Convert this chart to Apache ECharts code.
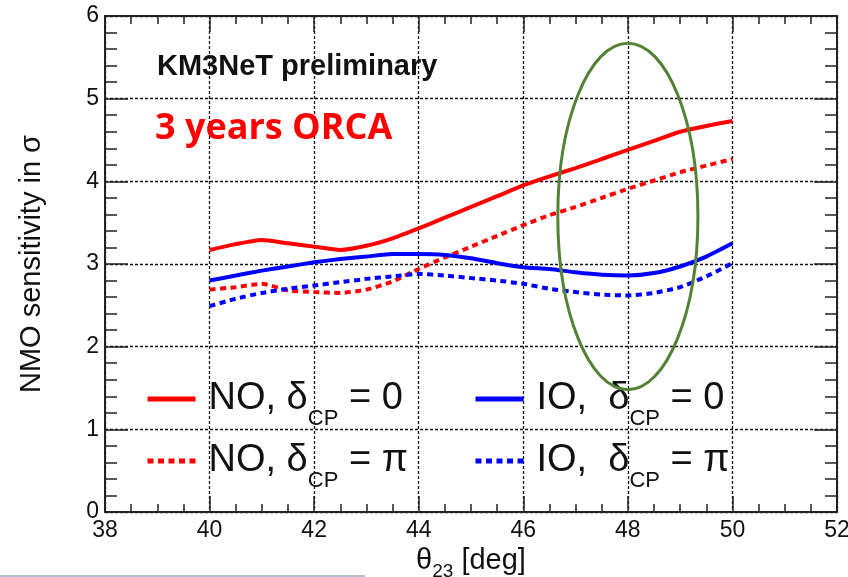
<!DOCTYPE html>
<html>
<head>
<meta charset="utf-8">
<script src="https://cdn.jsdelivr.net/npm/echarts@6/dist/echarts.min.js"></script>
<style>
  html, body { margin: 0; padding: 0; background: #ffffff; }
  #chart { width: 848px; height: 577px; }
</style>
</head>
<body>
<div id="chart"></div>
<script>
// theta_23 scan points (degrees)
const theta = [40, 40.5, 41, 41.5, 42, 42.5, 43, 43.5, 44, 44.5, 45, 45.5, 46, 46.5, 47, 47.5, 48, 48.5, 49, 49.5, 50];

// NMO sensitivity (sigma) after 3 years of ORCA
const noDelta0  = [3.17, 3.24, 3.29, 3.25, 3.21, 3.17, 3.22, 3.31, 3.43, 3.56, 3.69, 3.82, 3.95, 4.06, 4.16, 4.27, 4.38, 4.49, 4.60, 4.67, 4.73];
const noDeltaPi = [2.69, 2.72, 2.76, 2.68, 2.66, 2.65, 2.69, 2.79, 2.94, 3.08, 3.21, 3.34, 3.47, 3.59, 3.69, 3.80, 3.91, 4.01, 4.11, 4.19, 4.27];
const ioDelta0  = [2.80, 2.86, 2.92, 2.97, 3.02, 3.06, 3.09, 3.12, 3.12, 3.11, 3.07, 3.01, 2.96, 2.94, 2.90, 2.87, 2.86, 2.89, 2.97, 3.09, 3.25];
const ioDeltaPi = [2.49, 2.58, 2.65, 2.70, 2.74, 2.78, 2.82, 2.85, 2.88, 2.86, 2.83, 2.80, 2.76, 2.70, 2.66, 2.63, 2.62, 2.65, 2.72, 2.85, 3.01];

// series names and their legend labels (with CP subscript)
const seriesNames = ['NO, δCP = 0', 'NO, δCP = π', 'IO, δCP = 0', 'IO, δCP = π'];
const legendLabels = [
  '{sp| }{m|NO, δ}{s|CP}{m| = 0}',
  '{sp| }{m|NO, δ}{s|CP}{m| = π}',
  '{sp| }{m|IO,  δ}{s|CP}{m| = 0}',
  '{sp| }{m|IO,  δ}{s|CP}{m| = π}'
];

// highlighted region around theta_23 = 48 deg (centre and half-extents in data units)
const focus = { x: 48, y: 3.575, dx: 1.34, dy: 2.095 };

const FONT = '"Liberation Sans", Arial, Helvetica, sans-serif';
const INK = '#111111';
const RED = '#ff0000';
const BLUE = '#0000ff';

const chart = echarts.init(document.getElementById('chart'), null, { renderer: 'canvas' });

function pairs(xs, ys) { return xs.map((x, i) => [x, ys[i]]); }

const frameLine = { show: true, onZero: false, lineStyle: { color: '#222', width: 2 } };
const tickStyle = { color: '#222', width: 1.5 };

const legendRich = {
  sp: { width: 8, fontSize: 10 },
  m: { fontFamily: FONT, fontSize: 38, color: INK, lineHeight: 62 },
  s: { fontFamily: FONT, fontSize: 22, color: INK, lineHeight: 22, verticalAlign: 'bottom' }
};

function legendAt(idx, left, top) {
  return {
    data: [seriesNames[idx]],
    left: left, top: top, padding: 0,
    itemWidth: 48, itemHeight: 14,
    selectedMode: false,
    itemStyle: { opacity: 0 },
    lineStyle: { width: 5 },
    formatter: () => legendLabels[idx],
    textStyle: { rich: legendRich }
  };
}

function lineSeries(name, data, color, dashed) {
  return {
    name: name,
    type: 'line',
    data: pairs(theta, data),
    showSymbol: false,
    symbol: 'none',
    smooth: 0.2,
    lineStyle: { color: color, width: 4, type: dashed ? [6, 4.5] : 'solid', cap: 'butt' },
    itemStyle: { color: color },
    animation: false,
    z: 3
  };
}

const option = {
  backgroundColor: '#ffffff',
  animation: false,
  grid: { left: 105, right: 11, top: 16, bottom: 65, containLabel: false, outerBoundsMode: 'none' },
  xAxis: [
    {
      type: 'value', position: 'bottom', min: 38, max: 52, interval: 2,
      axisLine: frameLine,
      axisTick: { show: true, inside: true, length: 16, lineStyle: tickStyle },
      minorTick: { show: true, splitNumber: 4, length: 8, lineStyle: tickStyle },
      axisLabel: { fontFamily: FONT, fontSize: 23, color: INK, margin: 7, showMinLabel: true, showMaxLabel: true },
      splitLine: { show: true, lineStyle: { color: '#111', width: 1.3, type: [3, 2] } },
      name: '{t|θ}{s|23}{t| [deg]}',
      nameLocation: 'middle',
      nameGap: 21,
      nameTextStyle: {
        rich: {
          t: { fontFamily: FONT, fontSize: 29, color: INK, lineHeight: 40 },
          s: { fontFamily: FONT, fontSize: 19, color: INK, lineHeight: 19, verticalAlign: 'bottom' }
        }
      }
    },
    {
      type: 'value', position: 'top', min: 38, max: 52, interval: 2,
      axisLine: frameLine,
      axisTick: { show: true, inside: true, length: 16, lineStyle: tickStyle },
      minorTick: { show: true, splitNumber: 4, length: 8, lineStyle: tickStyle },
      axisLabel: { show: false },
      splitLine: { show: false }
    }
  ],
  yAxis: [
    {
      type: 'value', position: 'left', min: 0, max: 6, interval: 1,
      axisLine: frameLine,
      axisTick: { show: true, inside: true, length: 23, lineStyle: tickStyle },
      minorTick: { show: true, splitNumber: 5, length: 12, lineStyle: tickStyle },
      axisLabel: { fontFamily: FONT, fontSize: 23, color: INK, margin: 6, showMinLabel: true, showMaxLabel: true },
      splitLine: { show: true, lineStyle: { color: '#111', width: 1.3, type: [3, 2] } },
      name: 'NMO sensitivity in σ',
      nameLocation: 'middle',
      nameGap: 59,
      nameTextStyle: { fontFamily: FONT, fontSize: 29, color: INK }
    },
    {
      type: 'value', position: 'right', min: 0, max: 6, interval: 1,
      axisLine: frameLine,
      axisTick: { show: true, inside: true, length: 23, lineStyle: tickStyle },
      minorTick: { show: true, splitNumber: 5, length: 12, lineStyle: tickStyle },
      axisLabel: { show: false },
      splitLine: { show: false }
    }
  ],
  legend: [
    legendAt(0, 145, 380),
    legendAt(1, 145, 442),
    legendAt(2, 473, 380),
    legendAt(3, 473, 442)
  ],
  series: [
    lineSeries(seriesNames[0], noDelta0, RED, false),
    lineSeries(seriesNames[1], noDeltaPi, RED, true),
    lineSeries(seriesNames[2], ioDelta0, BLUE, false),
    lineSeries(seriesNames[3], ioDeltaPi, BLUE, true)
  ],
  graphic: [
    {
      id: 'tag', type: 'text', x: 157, y: 67, z: 10,
      style: { text: 'KM3NeT preliminary', font: 'bold 29px ' + FONT, fill: INK, textVerticalAlign: 'middle', verticalAlign: 'middle' }
    },
    {
      id: 'exposure', type: 'text', x: 155, y: 129, z: 10,
      style: { text: '3 years ORCA', font: 'bold 36px "Open Sans", sans-serif', fill: RED, textVerticalAlign: 'middle', verticalAlign: 'middle' }
    },
    {
      id: 'underline', type: 'rect', x: 0, y: 575, z: 10,
      shape: { width: 365, height: 2 },
      style: { fill: '#aebfd6' }
    }
  ]
};

chart.setOption(option);

// green ring marking the theta_23 ~ 48 deg region, placed through the axis scales
const c = chart.convertToPixel({ xAxisIndex: 0, yAxisIndex: 0 }, [focus.x, focus.y]);
const e = chart.convertToPixel({ xAxisIndex: 0, yAxisIndex: 0 }, [focus.x + focus.dx, focus.y + focus.dy]);
chart.setOption({
  graphic: [
    {
      id: 'focus', type: 'ellipse', z: 20,
      shape: { cx: c[0], cy: c[1], rx: Math.abs(e[0] - c[0]), ry: Math.abs(c[1] - e[1]) },
      style: { fill: 'none', stroke: '#548235', lineWidth: 3 }
    }
  ]
});
</script>
</body>
</html>
